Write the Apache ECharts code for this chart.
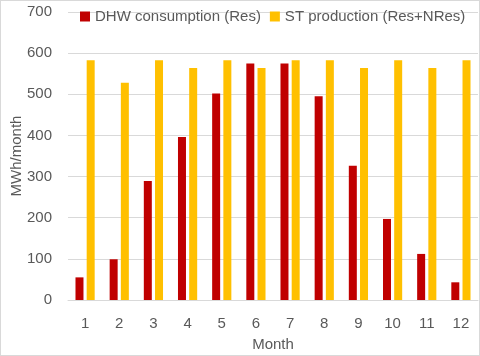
<!DOCTYPE html>
<html lang="en">
<head>
    <meta charset="UTF-8">
    <title>DHW vs ST</title>
    <script src="https://cdn.jsdelivr.net/npm/echarts@6/dist/echarts.min.js"></script>
    <style>
        html, body { margin: 0; padding: 0; background: #fff; }
        #main { width: 478px; height: 354px; border: 1px solid #d9d9d9; }
    </style>
</head>
<body>
    <div id="main"></div>
    <script type="text/javascript">
        var months = ['1', '2', '3', '4', '5', '6', '7', '8', '9', '10', '11', '12']
        var dhwRes = [55, 99, 289, 396, 502, 575, 575, 495, 326, 197, 112, 43]
        var stResNres = [583, 528, 583, 564, 583, 564, 583, 583, 564, 583, 564, 583]

        var textColor = '#595959'
        var font = 'Liberation Sans'

        var myChart = echarts.init(document.getElementById('main'))

        var option = {
            animation: false,
            textStyle: { fontFamily: font },
            legend: {
                left: 74,
                top: 3,
                width: 400,
                itemWidth: 10,
                itemHeight: 10,
                itemGap: 9,
                icon: 'rect',
                textStyle: { color: textColor, fontSize: 15, fontFamily: font },
                data: ['DHW consumption (Res)', 'ST production (Res+NRes)']
            },
            grid: { left: 67, right: 1, top: 11, bottom: 55, containLabel: false, outerBoundsMode: 'none' },
            xAxis: {
                type: 'category',
                data: months,
                name: 'Month',
                nameLocation: 'middle',
                nameGap: 37,
                nameMoveOverlap: false,
                nameTextStyle: { color: textColor, fontSize: 15, fontFamily: font },
                axisLine: { lineStyle: { color: '#d9d9d9' } },
                axisTick: { show: false },
                axisLabel: { color: textColor, fontSize: 15, margin: 16 }
            },
            yAxis: {
                type: 'value',
                min: 0,
                max: 700,
                interval: 100,
                name: 'MWh/month',
                nameLocation: 'middle',
                nameGap: 44,
                nameMoveOverlap: false,
                nameTextStyle: { color: textColor, fontSize: 15, fontFamily: font },
                axisLabel: { color: textColor, fontSize: 15, margin: 16 },
                splitLine: { lineStyle: { color: '#d9d9d9' } }
            },
            series: [{
                name: 'DHW consumption (Res)',
                type: 'bar',
                data: dhwRes,
                barWidth: 8,
                barGap: '40%',
                itemStyle: { color: '#c00000' }
            }, {
                name: 'ST production (Res+NRes)',
                type: 'bar',
                data: stResNres,
                barWidth: 8,
                barGap: '40%',
                itemStyle: { color: '#ffc000' }
            }]
        }

        myChart.setOption(option)
    </script>
</body>
</html>
